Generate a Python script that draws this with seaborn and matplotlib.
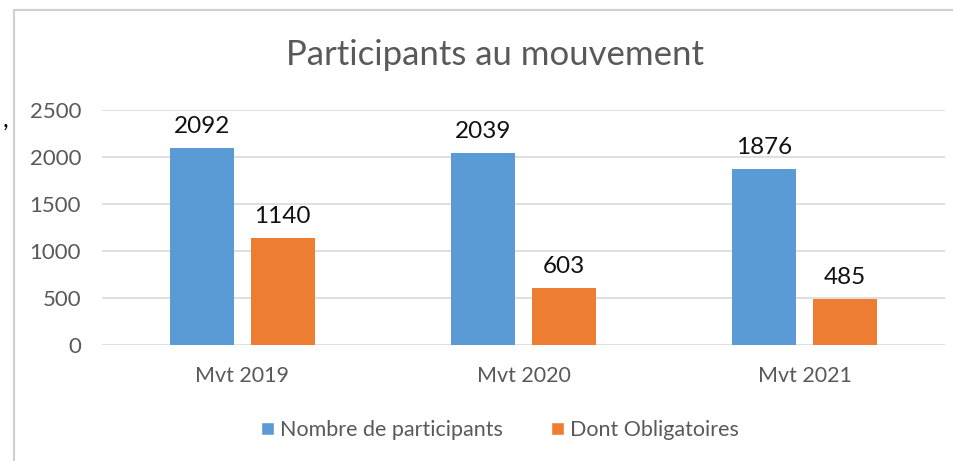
import matplotlib
matplotlib.use("Agg")
import matplotlib.pyplot as plt
from matplotlib.lines import Line2D
from matplotlib.patches import Patch
import seaborn as sns
import pandas as pd

categories = ["Mvt 2019", "Mvt 2020", "Mvt 2021"]
participants = [2092, 2039, 1876]
obligatoires = [1140, 603, 485]
series_names = ["Nombre de participants", "Dont Obligatoires"]
yticks = [0, 500, 1000, 1500, 2000, 2500]

df = pd.DataFrame({
    "cat": categories * 2,
    "serie": [series_names[0]] * 3 + [series_names[1]] * 3,
    "val": participants + obligatoires,
})

sns.set_theme(style="white")
plt.rcParams["font.family"] = ["Lato", "DejaVu Sans"]

colors = ["#5B9BD5", "#ED7D31"]
gray = "#595959"

fig = plt.figure(figsize=(9.54, 4.61), dpi=100)
ax = fig.add_axes([102 / 954, 1 - 345 / 461, (945 - 102) / 954, 235 / 461])

sns.barplot(data=df, x="cat", y="val", hue="serie", palette=colors,
            width=0.573, gap=0.211, ax=ax, legend=False, saturation=1,
            linewidth=0)

ax.set_ylim(0, 2500)
ax.set_xlim(-0.5, 2.5)
ax.set_yticks(yticks)
ax.set_yticklabels([str(v) for v in yticks], fontsize=16, color=gray)
ax.set_xticks(range(len(categories)))
ax.set_xticklabels(categories, fontsize=15.5, color=gray)
ax.tick_params(axis="both", length=0)
ax.tick_params(axis="y", pad=15)
ax.tick_params(axis="x", pad=15)
ax.set_xlabel("")
ax.set_ylabel("")
ax.yaxis.grid(True, color="#D9D9D9", linewidth=1.2)
ax.set_axisbelow(True)
for s in ax.spines.values():
    s.set_visible(False)

for c in ax.containers:
    ax.bar_label(c, fmt="%d", padding=8, fontsize=17.5, color="#111111")

fig.text(495 / 954, 1 - 55 / 461, "Participants au mouvement", ha="center",
         va="center", fontsize=25, color=gray)

handles = [Patch(facecolor=colors[i], label=series_names[i]) for i in range(2)]
fig.legend(handles=handles, loc="center", bbox_to_anchor=(500 / 954, 1 - 430 / 461),
           ncol=2, frameon=False, fontsize=15.5, handlelength=0.6, handleheight=0.6,
           handletextpad=0.3, columnspacing=2.2, labelcolor=gray)

# outer border (top and left visible)
fig.add_artist(Line2D([14 / 954, 1.0], [1 - 10 / 461, 1 - 10 / 461],
                      transform=fig.transFigure, color="#D0D0D0", linewidth=1.5))
fig.add_artist(Line2D([14 / 954, 14 / 954], [0, 1 - 10 / 461],
                      transform=fig.transFigure, color="#D0D0D0", linewidth=1.5))
fig.text(5 / 954, 1 - 120 / 461, ",", ha="center", va="center", fontsize=18, color="#000000")

fig.savefig("out.png", dpi=100)
